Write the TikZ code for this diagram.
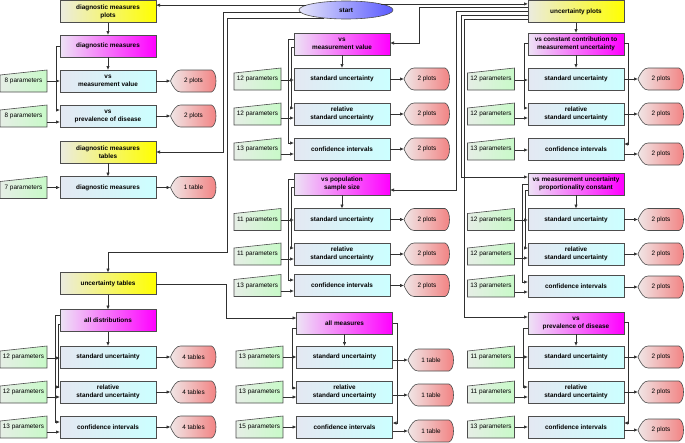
\documentclass[tikz,border=0pt]{standalone}
\usepackage{fontspec}
\setmainfont{Liberation Sans}
\usetikzlibrary{arrows.meta,calc,shapes.geometric}
\pgfdeclarelayer{background}
\pgfsetlayers{background,main}
\definecolor{edgec}{HTML}{4D4D4D}
\definecolor{linec}{HTML}{303030}
\definecolor{yelL}{HTML}{EBEBE0}
\definecolor{yelR}{HTML}{FFFF00}
\definecolor{magL}{HTML}{EDE3F5}
\definecolor{magR}{HTML}{FF00FF}
\definecolor{cyaL}{HTML}{E4E8F2}
\definecolor{cyaR}{HTML}{CCFFFF}
\definecolor{parL}{HTML}{E6EEE6}
\definecolor{parR}{HTML}{C8FAC8}
\definecolor{outL}{HTML}{F0E6E6}
\definecolor{outR}{HTML}{F28080}
\definecolor{stL}{HTML}{E6E6FA}
\definecolor{stR}{HTML}{5A5AFF}
\tikzset{
 base/.style={inner sep=0pt, outer sep=0pt, align=center, font=\fontsize{6.4}{8}\selectfont\bfseries, text=black},
 boxn/.style={base, rectangle, minimum width=96pt, minimum height=22pt, draw=edgec, line width=0.6pt},
 ybox/.style={boxn, left color=yelL, right color=yelR},
 mbox/.style={boxn, left color=magL, right color=magR},
 cbox/.style={boxn, left color=cyaL, right color=cyaR},
 parn/.style={base, font=\fontsize{6.4}{8}\selectfont, minimum width=47pt, minimum height=22pt},
 outn/.style={base, font=\fontsize{6.4}{8}\selectfont, minimum width=46pt, minimum height=22pt},
 pardraw/.style={draw=edgec, line width=0.6pt, left color=parL, right color=parR},
 outdraw/.style={draw=edgec, line width=0.6pt, left color=outL, right color=outR},
 conn/.style={draw=linec, line width=0.7pt, -{Latex[length=4pt,width=3.4pt]}},
}
\newcommand\parshp[1]{\path[pardraw] (#1.south west) -- ($(#1.north west)+(0,5)$) -- (#1.north east) -- (#1.south east) -- cycle;}
\newcommand\outshp[1]{\path[outdraw] (#1.west) .. controls ($(#1.west)+(3,-7)$) and ($(#1.north west)+(6,0)$) .. ($(#1.north west)+(10,0)$) -- ($(#1.north east)+(-5,0)$) .. controls ($(#1.north east)+(1,2)$) and ($(#1.south east)+(1,-2)$) .. ($(#1.south east)+(-5,0)$) -- ($(#1.south west)+(10,0)$) .. controls ($(#1.south west)+(6,0)$) and ($(#1.west)+(3,7)$) .. (#1.west) -- cycle;}
\begin{document}
\begin{tikzpicture}[x=1pt,y=-1pt]
\useasboundingbox (0,0) rectangle (685,442);
% ---------- start
\node[base, ellipse, minimum width=94pt, minimum height=18pt, draw=edgec, line width=0.6pt, left color=stL, right color=stR] (start) at (346,10) {start};
% ---------- left column
\node[ybox] (dmplots) at (108,11.5) {diagnostic measures\\plots};
\node[mbox] (dm) at (108,46) {diagnostic measures};
\node[cbox] (vmv) at (108,81) {vs\\measurement value};
\node[parn] (pA1) at (23.5,81) {8 parameters};
\node[outn] (oA1) at (193.5,81) {2 plots};
\node[cbox] (vpd) at (108,116) {vs\\prevalence of disease};
\node[parn] (pA2) at (23.5,116) {8 parameters};
\node[outn] (oA2) at (193.5,116) {2 plots};
\node[ybox] (dmtables) at (108,152) {diagnostic measures\\tables};
\node[cbox] (dmt) at (108,187.5) {diagnostic measures};
\node[parn] (pB) at (23.5,187.5) {7 parameters};
\node[outn] (oB) at (193.5,187.5) {1 table};
\node[ybox] (unctables) at (108,283.5) {uncertainty tables};
\node[mbox] (alldist) at (108,320.5) {all distributions};
\node[cbox] (ad1) at (108,357) {standard uncertainty};
\node[parn] (pC1) at (23.5,357) {12 parameters};
\node[outn] (oC1) at (193.5,357) {4 tables};
\node[cbox] (ad2) at (108,392) {relative\\standard uncertainty};
\node[parn] (pC2) at (23.5,392) {12 parameters};
\node[outn] (oC2) at (193.5,392) {4 tables};
\node[cbox] (ad3) at (108,427) {confidence intervals};
\node[parn] (pC3) at (23.5,427) {13 parameters};
\node[outn] (oC3) at (193.5,427) {4 tables};
% ---------- middle column
\node[mbox] (mvs) at (342,44) {vs\\measurement value};
\node[cbox] (m1) at (342,79) {standard uncertainty};
\node[parn] (pD1) at (257.5,79) {12 parameters};
\node[outn] (oD1) at (427,79) {2 plots};
\node[cbox] (m2) at (342,114) {relative\\standard uncertainty};
\node[parn] (pD2) at (257.5,114) {12 parameters};
\node[outn] (oD2) at (427,114) {2 plots};
\node[cbox] (m3) at (342,149) {confidence intervals};
\node[parn] (pD3) at (257.5,149) {13 parameters};
\node[outn] (oD3) at (427,149) {2 plots};
\node[mbox] (vspop) at (342,184) {vs population\\sample size};
\node[cbox] (s1) at (342,219.5) {standard uncertainty};
\node[parn] (pE1) at (257.5,219.5) {11 parameters};
\node[outn] (oE1) at (427,219.5) {2 plots};
\node[cbox] (s2) at (342,254) {relative\\standard uncertainty};
\node[parn] (pE2) at (257.5,254) {11 parameters};
\node[outn] (oE2) at (427,254) {2 plots};
\node[cbox] (s3) at (342,285.5) {confidence intervals};
\node[parn] (pE3) at (257.5,285.5) {13 parameters};
\node[outn] (oE3) at (427,285.5) {2 plots};
\node[mbox] (allmeas) at (344.5,323) {all measures};
\node[cbox] (a1) at (344.5,357) {standard uncertainty};
\node[parn] (pF1) at (259.5,357) {13 parameters};
\node[outn] (oF1) at (431,360) {1 table};
\node[cbox] (a2) at (344.5,392) {relative\\standard uncertainty};
\node[parn] (pF2) at (259.5,392) {13 parameters};
\node[outn] (oF2) at (431,395) {1 table};
\node[cbox] (a3) at (344.5,427) {confidence intervals};
\node[parn] (pF3) at (259.5,427) {15 parameters};
\node[outn] (oF3) at (431,431) {1 table};
% ---------- right column
\node[ybox] (uncplots) at (576,11.5) {uncertainty plots};
\node[mbox] (vsconst) at (576,44) {vs constant contribution to\\measurement uncertainty};
\node[cbox] (c1) at (576,79) {standard uncertainty};
\node[parn] (pG1) at (491,79) {12 parameters};
\node[outn] (oG1) at (661,79) {2 plots};
\node[cbox] (c2) at (576,114) {relative\\standard uncertainty};
\node[parn] (pG2) at (491,114) {12 parameters};
\node[outn] (oG2) at (661,114) {2 plots};
\node[cbox] (c3) at (576,149) {confidence intervals};
\node[parn] (pG3) at (491,149) {13 parameters};
\node[outn] (oG3) at (661,154) {2 plots};
\node[mbox] (vsprop) at (576,184) {vs measurement uncertainty\\proportionality constant};
\node[cbox] (r1) at (576,219.5) {standard uncertainty};
\node[parn] (pH1) at (491,219.5) {12 parameters};
\node[outn] (oH1) at (661,219.5) {2 plots};
\node[cbox] (r2) at (576,254) {relative\\standard uncertainty};
\node[parn] (pH2) at (491,254) {12 parameters};
\node[outn] (oH2) at (661,254) {2 plots};
\node[cbox] (r3) at (576,286) {confidence intervals};
\node[parn] (pH3) at (491,286) {13 parameters};
\node[outn] (oH3) at (661,287) {2 plots};
\node[mbox] (vsprev) at (576,323) {vs\\prevalence of disease};
\node[cbox] (v1) at (576,357) {standard uncertainty};
\node[parn] (pI1) at (491,357) {11 parameters};
\node[outn] (oI1) at (661,357) {2 plots};
\node[cbox] (v2) at (576,392) {relative\\standard uncertainty};
\node[parn] (pI2) at (491,392) {11 parameters};
\node[outn] (oI2) at (661,392) {2 plots};
\node[cbox] (v3) at (576,427) {confidence intervals};
\node[parn] (pI3) at (491,427) {13 parameters};
\node[outn] (oI3) at (661,430) {2 plots};
% ---------- shapes of parameter and output nodes
\begin{pgfonlayer}{background}
\foreach \n in {pA1,pA2,pB,pC1,pC2,pC3,pD1,pD2,pD3,pE1,pE2,pE3,pF1,pF2,pF3,pG1,pG2,pG3,pH1,pH2,pH3,pI1,pI2,pI3} {\parshp{\n}}
\foreach \n in {oA1,oA2,oB,oC1,oC2,oC3,oD1,oD2,oD3,oE1,oE2,oE3,oF1,oF2,oF3,oG1,oG2,oG3,oH1,oH2,oH3,oI1,oI2,oI3} {\outshp{\n}}
\end{pgfonlayer}
% ---------- global connectors
\draw[conn] (start.173) -- (dmplots.east |- start.173);
\draw[conn] (start.183) -| (223,152) -- (dmtables);
\draw[conn] (start.200) -| (227,252) -| (unctables);
\draw[conn] (start.10) -- (uncplots.west |- start.10);
\draw[conn] (uncplots.west |- 0,7) -| (419,43) -- (mvs.east |- 0,43);
\draw[conn] (uncplots.west |- 0,11) -| (456,190) -- (vspop.east |- 0,190);
\draw[conn] (uncplots.west |- 0,15) -| (461.5,177) -- (vsprop.west |- 0,177);
\draw[conn] (uncplots.west |- 0,19) -| (464,317) -- (vsprev.west |- 0,317);
\draw[conn] (uncplots) -- (vsconst);
\draw[conn] (dmplots) -- (dm);
\draw[conn] (dmtables) -- (dmt);
\draw[conn] (unctables) -- (alldist);
\draw[conn] (unctables.east |- 0,284) -| (226,318) -- (allmeas.west |- 0,318);
% ---------- left groups
\draw[conn] (dm) -- (vmv);
\draw[conn] (dm.west |- 0,46) -| (56,110) -- (vpd.west |- 0,110);
\draw[conn] (pA1.east |- 0,81) -- (vmv.west |- 0,81);
\draw[conn] (pA2.east |- 0,122) -- (vpd.west |- 0,122);
\draw[conn] (vmv) -- (oA1);
\draw[conn] (vpd) -- (oA2);
\draw[conn] (pB) -- (dmt);
\draw[conn] (dmt) -- (oB);
\draw[conn] (alldist) -- (ad1);
\draw[conn] (alldist.west |- 0,315) -| (55,422) -- (ad3.west |- 0,422);
\draw[conn] (alldist.west |- 0,324) -| (58,387) -- (ad2.west |- 0,387);
\draw[conn] (pC1.east |- 0,358) -- (ad1.west |- 0,358);
\draw[conn] (pC2.east |- 0,397) -- (ad2.west |- 0,397);
\draw[conn] (pC3.east |- 0,432) -- (ad3.west |- 0,432);
\draw[conn] (ad1) -- (oC1);
\draw[conn] (ad2) -- (oC2);
\draw[conn] (ad3) -- (oC3);
% ---------- middle groups
\draw[conn] (mvs) -- (m1);
\draw[conn] (mvs.west |- 0,39) -| (288,143) -- (m3.west |- 0,143);
\draw[conn] (mvs.west |- 0,47) -| (291,108) -- (m2.west |- 0,108);
\draw[conn] (pD1.east |- 0,80) -- (m1.west |- 0,80);
\draw[conn] (pD2.east |- 0,118) -- (m2.west |- 0,118);
\draw[conn] (pD3.east |- 0,154) -- (m3.west |- 0,154);
\draw[conn] (m1) -- (oD1);
\draw[conn] (m2) -- (oD2);
\draw[conn] (m3) -- (oD3);
\draw[conn] (vspop) -- (s1);
\draw[conn] (vspop.west |- 0,179) -| (288,280) -- (s3.west |- 0,280);
\draw[conn] (vspop.west |- 0,187) -| (291,248) -- (s2.west |- 0,248);
\draw[conn] (pE1.east |- 0,220) -- (s1.west |- 0,220);
\draw[conn] (pE2.east |- 0,259) -- (s2.west |- 0,259);
\draw[conn] (pE3.east |- 0,291) -- (s3.west |- 0,291);
\draw[conn] (s1) -- (oE1);
\draw[conn] (s2) -- (oE2);
\draw[conn] (s3) -- (oE3);
\draw[conn] (allmeas) -- (a1);
\draw[conn] (allmeas.west |- 0,328) -| (292,388) -- (a2.west |- 0,388);
\draw[conn] (allmeas.east |- 0,323) -| (397,423) -- (a3.east |- 0,423);
\draw[conn] (pF1.east |- 0,357) -- (a1.west |- 0,357);
\draw[conn] (pF2.east |- 0,397) -- (a2.west |- 0,397);
\draw[conn] (pF3.east |- 0,427) -- (a3.west |- 0,427);
\draw[conn] (a1.east |- oF1) -- (oF1);
\draw[conn] (a2.east |- oF2) -- (oF2);
\draw[conn] (a3.east |- oF3) -- (oF3);
% ---------- right groups
\draw[conn] (vsconst) -- (c1);
\draw[conn] (vsconst.west |- 0,43) -| (524,108) -- (c2.west |- 0,108);
\draw[conn] (vsconst.east |- 0,43) -| (628,144) -- (c3.east |- 0,144);
\draw[conn] (pG1.east |- 0,80) -- (c1.west |- 0,80);
\draw[conn] (pG2.east |- 0,118) -- (c2.west |- 0,118);
\draw[conn] (pG3.east |- 0,150) -- (c3.west |- 0,150);
\draw[conn] (c1) -- (oG1);
\draw[conn] (c2) -- (oG2);
\draw[conn] (c3.east |- oG3) -- (oG3);
\draw[conn] (vsprop) -- (r1);
\draw[conn] (vsprop.west |- 0,184) -| (522,282) -- (r3.west |- 0,282);
\draw[conn] (vsprop.west |- 0,190) -| (525,248) -- (r2.west |- 0,248);
\draw[conn] (pH1.east |- 0,220) -- (r1.west |- 0,220);
\draw[conn] (pH2.east |- 0,258) -- (r2.west |- 0,258);
\draw[conn] (pH3.east |- 0,292) -- (r3.west |- 0,292);
\draw[conn] (r1) -- (oH1);
\draw[conn] (r2) -- (oH2);
\draw[conn] (r3.east |- oH3) -- (oH3);
\draw[conn] (vsprev) -- (v1);
\draw[conn] (vsprev.west |- 0,328) -| (523,387) -- (v2.west |- 0,387);
\draw[conn] (vsprev.east |- 0,322) -| (628,423) -- (v3.east |- 0,423);
\draw[conn] (pI1.east |- 0,357) -- (v1.west |- 0,357);
\draw[conn] (pI2.east |- 0,397) -- (v2.west |- 0,397);
\draw[conn] (pI3.east |- 0,427) -- (v3.west |- 0,427);
\draw[conn] (v1) -- (oI1);
\draw[conn] (v2) -- (oI2);
\draw[conn] (v3.east |- oI3) -- (oI3);
\end{tikzpicture}
\end{document}
